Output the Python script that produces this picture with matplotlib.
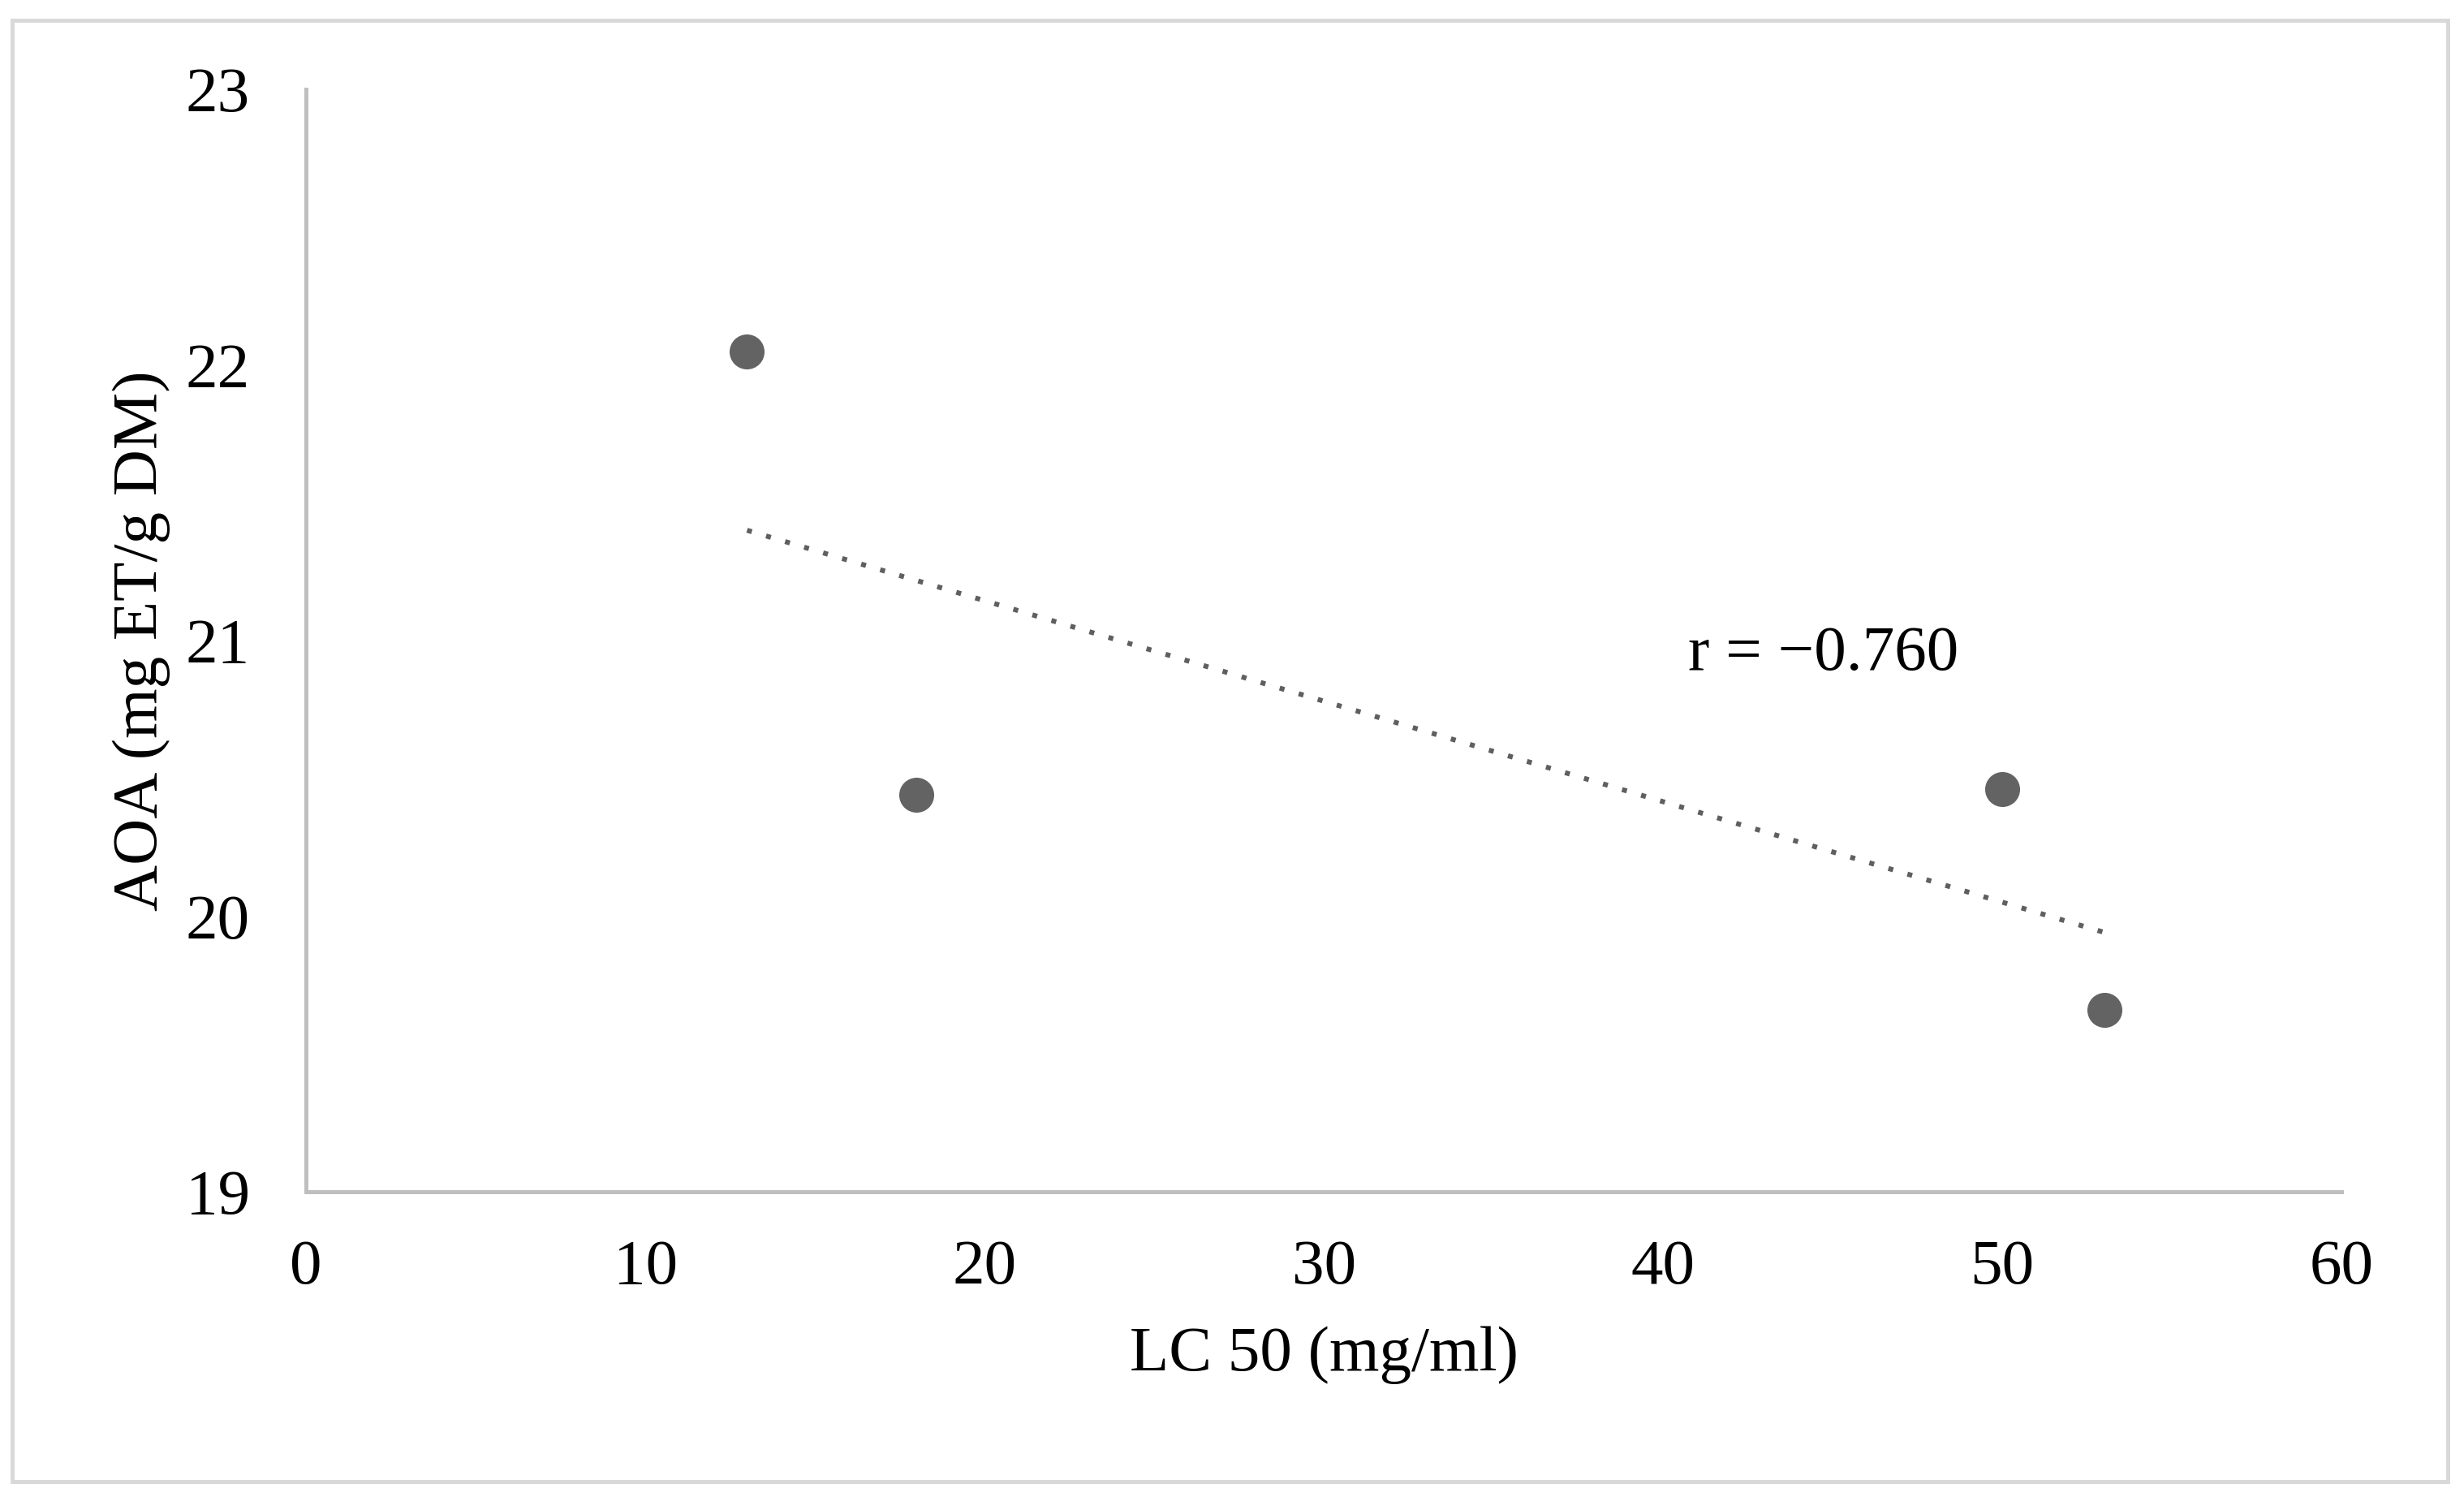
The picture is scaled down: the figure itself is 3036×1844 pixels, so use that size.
import matplotlib
matplotlib.use("Agg")
import matplotlib.pyplot as plt
import numpy as np
from matplotlib.patches import Rectangle

# data
lc50 = [13, 18, 50, 53]
aoa = [22.05, 20.44, 20.46, 19.66]
x_ticks = [0, 10, 20, 30, 40, 50, 60]
y_ticks = [19, 20, 21, 22, 23]
r_label = "r = \u22120.760"

plt.rcParams["font.family"] = ["Liberation Serif", "DejaVu Serif"]
FS = 57

fig = plt.figure(figsize=(30.36, 18.44), dpi=100)
ax = fig.add_axes([0.1242, 0.2039, 0.8261, 0.7364])

ax.plot(lc50, aoa, "o", color="#636363", markersize=31, markeredgewidth=0, zorder=3)

# linear trendline
slope, intercept = np.polyfit(lc50, aoa, 1)
xs = np.array([min(lc50), max(lc50)])
ax.plot(xs, slope * xs + intercept, color="#5f5f5f", linewidth=4.4,
        linestyle=(0, (1, 3.0)), dash_capstyle="butt", zorder=2)

ax.text(40.74, 20.95, r_label, fontsize=FS, ha="left", va="center")

ax.set_xlim(0, 60)
ax.set_ylim(19, 23)
ax.set_xticks(x_ticks)
ax.set_yticks(y_ticks)
ax.tick_params(length=0, labelsize=FS)
ax.tick_params(axis="x", pad=42)
ax.tick_params(axis="y", pad=50)

for side in ("top", "right"):
    ax.spines[side].set_visible(False)
for side in ("left", "bottom"):
    ax.spines[side].set_color("#bfbfbf")
    ax.spines[side].set_linewidth(3.6)

ax.set_xlabel("LC 50 (mg/ml)", fontsize=FS, va="center")
ax.xaxis.set_label_coords(0.5, -0.148)
ax.set_ylabel("AOA (mg ET/g DM)", fontsize=FS, va="center")
ax.yaxis.set_label_coords(-0.081, 0.5)

# outer chart border
fig.patches.append(Rectangle((0.0051, 0.0103), 0.9883, 0.9761, transform=fig.transFigure,
                             fill=False, edgecolor="#d9d9d9", linewidth=3.6))

fig.savefig("out.png", dpi=100, facecolor="white")
